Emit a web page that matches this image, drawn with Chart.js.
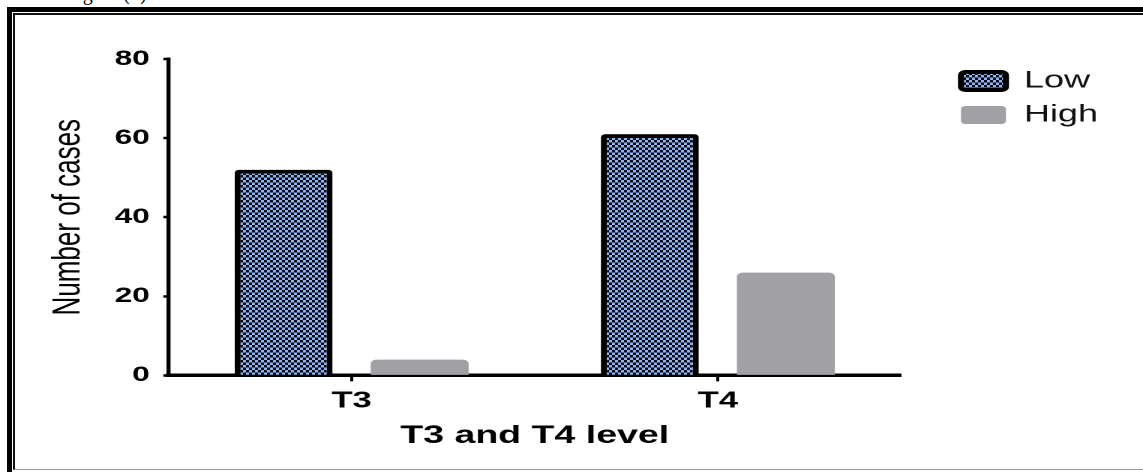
<!DOCTYPE html>
<html>
<head>
<meta charset="utf-8">
<script src="https://cdn.jsdelivr.net/npm/chart.js@4.4.1/dist/chart.umd.min.js"></script>
<style>
  html, body { margin: 0; padding: 0; background: #fff; overflow: hidden; }
  body { width: 1143px; height: 472px; position: relative; }
  .caption {
    position: absolute; left: 66px; top: -17px;
    font: 20px "Liberation Serif", serif; line-height: 20px; color: #000;
  }
  .frameOuter {
    position: absolute; left: 7px; top: 7px; width: 1300px; height: 600px;
    border-left: 5px solid #000; border-top: 5px solid #000;
  }
  .frameInner {
    position: absolute; left: 13px; top: 13px; width: 1300px; height: 454px;
    border-left: 2px solid #111; border-top: 2px solid #111; border-bottom: 1px solid #999;
  }
  /* the source figure is stretched sideways, so the chart is too */
  .wrap {
    position: absolute; left: 0; top: 0; width: 762px; height: 472px;
    transform: scaleX(1.5); transform-origin: 0 0;
  }
</style>
</head>
<body>
<div class="caption">Figure (1)</div>
<div class="frameOuter"></div>
<div class="frameInner"></div>
<div class="wrap"><canvas id="chart"></canvas></div>
<script>
const categories = ["T3", "T4"];
const lowValues = [52, 61];
const highValues = [4, 26];
const yTicks = [0, 20, 40, 60, 80];

const FONT = "'Liberation Sans', Arial, sans-serif";

// checkerboard fill of the "Low" bars
const makeChecker = () => {
	const tile = document.createElement("canvas");
	tile.width = 8;
	tile.height = 10;
	const t = tile.getContext("2d");
	t.fillStyle = "#8db4ee";
	t.fillRect(0, 0, 8, 10);
	t.fillStyle = "#0b0b18";
	t.fillRect(0, 0, 4, 5);
	t.fillRect(4, 5, 4, 5);
	const pattern = document.getElementById("chart").getContext("2d").createPattern(tile, "repeat");
	pattern.setTransform(new DOMMatrix().scale(0.5));
	return pattern;
};

const checker = makeChecker();

new Chart(document.getElementById("chart"), {
	type: "bar",
	data: {
		labels: categories,
		datasets: [{
			label: "Low",
			data: lowValues,
			backgroundColor: checker,
			borderColor: "#000",
			borderWidth: 4,
			borderRadius: 3,
			categoryPercentage: 0.743,
			barPercentage: 0.72
		}, {
			label: "High",
			data: highValues,
			backgroundColor: "#a1a1a5",
			borderWidth: 0,
			borderRadius: 4,
			categoryPercentage: 0.743,
			barPercentage: 0.72
		}]
	},
	options: {
		responsive: true,
		maintainAspectRatio: false,
		animation: false,
		devicePixelRatio: 2,
		layout: { padding: { top: 59, left: 30, right: 20, bottom: 21 } },
		plugins: {
			tooltip: { enabled: false },
			legend: {
				position: "right",
				align: "start",
				labels: {
					color: "#111",
					font: { family: FONT, size: 24 },
					boxWidth: 30,
					boxHeight: 18,
					padding: 10,
					useBorderRadius: true,
					borderRadius: 3
				}
			}
		},
		scales: {
			x: {
				grid: { display: true, drawOnChartArea: false, offset: false, color: "#000", tickLength: 6, tickWidth: 2 },
				border: { display: true, color: "#000", width: 3.5 },
				ticks: { color: "#000", padding: 6, font: { family: FONT, size: 23, weight: "bold" } },
				title: {
					display: true,
					text: "T3 and T4 level",
					color: "#000",
					font: { family: FONT, size: 25, weight: "bold" },
					padding: { top: 0, bottom: 0 }
				}
			},
			y: {
				min: 0,
				max: 80,
				afterBuildTicks: axis => { axis.ticks = yTicks.map(v => ({ value: v })); },
				grid: { display: true, drawOnChartArea: false, color: "#000", tickLength: 3.5, tickWidth: 2.5 },
				border: { display: true, color: "#000", width: 2.7 },
				ticks: { color: "#000", padding: 9, font: { family: FONT, size: 21, weight: "bold" } },
				title: {
					display: true,
					text: "Number of cases",
					color: "#000",
					font: { family: FONT, size: 26 },
					padding: { top: 0, bottom: 6.3 }
				}
			},
			// empty spacer between the plot and the legend
			gap: {
				position: "right",
				display: true,
				grid: { display: false },
				border: { display: false },
				ticks: { display: false },
				afterFit: scale => { scale.width = 30; }
			}
		}
	}
});
</script>
</body>
</html>
